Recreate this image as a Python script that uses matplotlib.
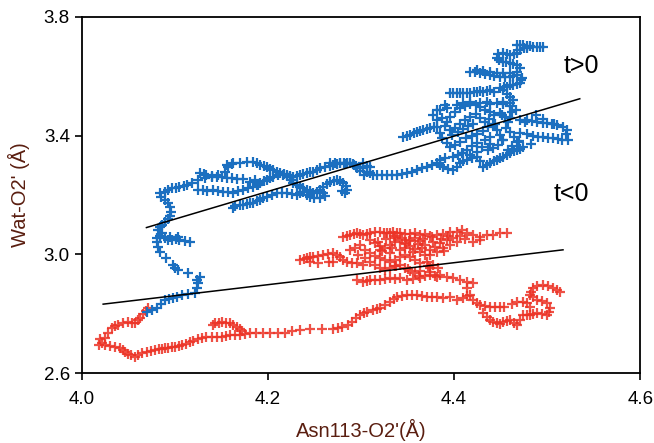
import numpy as np
import matplotlib
matplotlib.use("Agg")
from matplotlib import pyplot as plt

plt.rcParams['font.family'] = ['Liberation Sans', 'DejaVu Sans']

# t>0 trajectory (blue)
blue_x = [4.070, 4.075, 4.081, 4.085, 4.089, 4.094, 4.098, 4.102, 4.1075, 4.114, 4.1215, 4.124, 4.125, 4.127,
          4.124, 4.114, 4.103, 4.100, 4.098, 4.091, 4.084, 4.082, 4.081, 4.081, 4.084, 4.089, 4.093, 4.097,
          4.101, 4.105, 4.111, 4.116, 4.103, 4.095, 4.086, 4.082, 4.084, 4.086, 4.089, 4.093, 4.095, 4.096,
          4.095, 4.093, 4.089, 4.085, 4.084, 4.089, 4.093, 4.097, 4.101, 4.105, 4.110, 4.113, 4.118, 4.125,
          4.132, 4.140, 4.146, 4.154, 4.157, 4.161,
          4.156, 4.162, 4.170, 4.177, 4.184, 4.188, 4.191, 4.196, 4.199, 4.202, 4.205, 4.210, 4.213, 4.217,
          4.220, 4.224, 4.227, 4.231, 4.234, 4.238, 4.242, 4.245, 4.248, 4.253, 4.256, 4.261, 4.267, 4.270,
          4.274, 4.277, 4.282, 4.285, 4.288, 4.291, 4.295, 4.296, 4.299, 4.302, 4.306, 4.303,
          4.127, 4.131, 4.134, 4.140, 4.145, 4.151, 4.156, 4.161, 4.167, 4.173,
          4.125, 4.130, 4.135, 4.141, 4.146, 4.152, 4.157, 4.162, 4.168, 4.173, 4.1785, 4.184, 4.188, 4.191,
          4.196, 4.199, 4.202, 4.205, 4.211, 4.216, 4.220, 4.224, 4.226, 4.227, 4.231, 4.234, 4.238, 4.242,
          4.245, 4.248, 4.253, 4.256, 4.259, 4.263, 4.267, 4.271, 4.274, 4.277, 4.281, 4.284, 4.285, 4.283, 4.280,
          4.162, 4.165, 4.170, 4.173, 4.177, 4.181, 4.184, 4.188, 4.191, 4.195, 4.199, 4.204, 4.210, 4.215,
          4.220, 4.226, 4.231, 4.234, 4.238, 4.242, 4.245, 4.250, 4.256, 4.259, 4.261, 4.181, 4.186, 4.189,
          4.267, 4.272, 4.277, 4.283, 4.288, 4.293, 4.299, 4.302, 4.306, 4.310, 4.310, 4.313, 4.317, 4.323,
          4.328, 4.333, 4.339, 4.344, 4.3495, 4.355, 4.360, 4.366, 4.371, 4.376, 4.382, 4.385, 4.388, 4.3935,
          4.399, 4.403, 4.4065, 4.410, 4.414, 4.419, 4.4247, 4.428, 4.431, 4.4355, 4.4387, 4.443, 4.446, 4.449,
          4.4527, 4.457, 4.460, 4.464, 4.468, 4.471, 4.474, 4.385, 4.390, 4.399, 4.404, 4.410,
          4.345, 4.3495, 4.353, 4.357, 4.360, 4.3635, 4.367, 4.371, 4.374, 4.378, 4.382,
          4.385, 4.390, 4.3925, 4.382, 4.377, 4.382, 4.387, 4.392, 4.396, 4.401, 4.4065, 4.412, 4.417, 4.423,
          4.428, 4.433, 4.4387, 4.443, 4.449, 4.455, 4.458, 4.460, 4.462, 4.460, 4.4527, 4.446, 4.4387,
          4.390, 4.396, 4.401, 4.4065, 4.412, 4.417, 4.423, 4.428, 4.433, 4.436, 4.431, 4.425, 4.419, 4.413,
          4.4065, 4.401, 4.396, 4.392, 4.387, 4.385, 4.398, 4.4043, 4.410, 4.415, 4.420, 4.442, 4.446, 4.449,
          4.4527, 4.447, 4.442, 4.436, 4.430, 4.4247, 4.419, 4.414, 4.4086, 4.417, 4.4247, 4.433, 4.4387,
          4.456, 4.460, 4.464, 4.468, 4.462, 4.458,
          4.471, 4.4785, 4.484, 4.489, 4.495, 4.500, 4.505, 4.511, 4.517, 4.5215, 4.520,
          4.471, 4.4785, 4.485, 4.490, 4.4957, 4.501, 4.5065, 4.512, 4.516, 4.5226,
          4.396, 4.399, 4.403, 4.4065, 4.410, 4.414, 4.417, 4.421, 4.4247, 4.428, 4.431, 4.4355, 4.4387,
          4.443, 4.449, 4.4538, 4.457, 4.460, 4.4634, 4.468, 4.471, 4.472, 4.473, 4.468, 4.4634, 4.460,
          4.455, 4.449, 4.443, 4.4387, 4.433, 4.428, 4.4226, 4.417, 4.4247, 4.431, 4.4387, 4.446, 4.4527,
          4.460, 4.468, 4.471, 4.468, 4.4634, 4.460, 4.456, 4.4527, 4.448, 4.446, 4.447, 4.4527, 4.457,
          4.460, 4.4645, 4.468, 4.471, 4.475, 4.4785, 4.468, 4.471, 4.474, 4.4785, 4.482, 4.485, 4.489,
          4.4925, 4.4957,
          4.4527, 4.457, 4.460, 4.4634, 4.460, 4.4527, 4.4355, 4.428, 4.417, 4.410, 4.403,
          4.437, 4.444, 4.451, 4.466, 4.476, 4.488, 4.495, 4.507, 4.439, 4.452, 4.470, 4.483]
blue_y = [2.806, 2.812, 2.819, 2.833, 2.846, 2.849, 2.853, 2.856, 2.863, 2.866, 2.870, 2.887, 2.903, 2.924,
          2.914, 2.937, 2.947, 2.954, 2.964, 2.988, 3.008, 3.025, 3.042, 3.055, 3.062, 3.055, 3.048, 3.048,
          3.052, 3.048, 3.045, 3.042, 3.058, 3.058, 3.072, 3.082, 3.092, 3.099, 3.109, 3.119, 3.129, 3.143,
          3.160, 3.173, 3.183, 3.193, 3.207, 3.210, 3.217, 3.224, 3.224, 3.227, 3.230, 3.234, 3.241, 3.251,
          3.257, 3.261, 3.267, 3.278, 3.294, 3.304,
          3.301, 3.308, 3.308, 3.311, 3.311, 3.308, 3.301, 3.298, 3.294, 3.288, 3.284, 3.278, 3.274, 3.271,
          3.267, 3.264, 3.261, 3.264, 3.267, 3.271, 3.274, 3.278, 3.278, 3.284, 3.291, 3.294, 3.298, 3.301,
          3.304, 3.308, 3.308, 3.308, 3.308, 3.304, 3.298, 3.291, 3.281, 3.291, 3.278, 3.267,
          3.274, 3.271, 3.267, 3.264, 3.261, 3.261, 3.257, 3.257, 3.254, 3.254,
          3.217, 3.217, 3.214, 3.217, 3.214, 3.210, 3.210, 3.207, 3.214, 3.217, 3.224, 3.227, 3.234, 3.241,
          3.247, 3.251, 3.257, 3.261, 3.267, 3.267, 3.264, 3.261, 3.251, 3.241, 3.234, 3.227, 3.224, 3.217,
          3.214, 3.207, 3.210, 3.217, 3.227, 3.237, 3.244, 3.247, 3.251, 3.247, 3.241, 3.230, 3.217, 3.207, 3.214,
          3.156, 3.163, 3.166, 3.166, 3.170, 3.173, 3.173, 3.180, 3.183, 3.190, 3.193, 3.200, 3.207, 3.207,
          3.207, 3.203, 3.200, 3.207, 3.210, 3.200, 3.193, 3.190, 3.190, 3.207, 3.197, 3.244, 3.251, 3.234,
          3.308, 3.308, 3.308, 3.304, 3.308, 3.301, 3.294, 3.308, 3.298, 3.294, 3.274, 3.267, 3.267, 3.267,
          3.267, 3.267, 3.267, 3.271, 3.274, 3.278, 3.284, 3.291, 3.294, 3.301, 3.308, 3.301, 3.294, 3.288,
          3.284, 3.294, 3.308, 3.314, 3.318, 3.325, 3.328, 3.314, 3.294, 3.301, 3.308, 3.314, 3.318, 3.325,
          3.328, 3.335, 3.342, 3.348, 3.352, 3.355, 3.362, 3.318, 3.325, 3.328, 3.335, 3.342,
          3.396, 3.399, 3.402, 3.409, 3.412, 3.416, 3.419, 3.422, 3.426, 3.429, 3.429,
          3.4865, 3.503, 3.493, 3.4865, 3.470, 3.453, 3.460, 3.446, 3.463, 3.480, 3.493, 3.500, 3.507, 3.503,
          3.497, 3.4865, 3.480, 3.470, 3.476, 3.463, 3.446, 3.460, 3.480, 3.500, 3.507, 3.510, 3.507,
          3.432, 3.419, 3.426, 3.439, 3.453, 3.463, 3.473, 3.460, 3.446, 3.429, 3.416, 3.406, 3.399, 3.392,
          3.379, 3.369, 3.362, 3.375, 3.392, 3.409, 3.402, 3.412, 3.422, 3.432, 3.439, 3.436, 3.419, 3.402,
          3.385, 3.369, 3.358, 3.352, 3.362, 3.375, 3.365, 3.352, 3.342, 3.335, 3.345, 3.385, 3.395,
          3.426, 3.412, 3.395, 3.379, 3.365, 3.352,
          3.453, 3.453, 3.449, 3.446, 3.443, 3.443, 3.439, 3.436, 3.429, 3.419, 3.406,
          3.409, 3.406, 3.399, 3.396, 3.396, 3.392, 3.392, 3.389, 3.385, 3.385,
          3.544, 3.544, 3.544, 3.544, 3.544, 3.544, 3.544, 3.547, 3.547, 3.551, 3.547, 3.551, 3.554,
          3.547, 3.561, 3.564, 3.564, 3.571, 3.571, 3.574, 3.5775, 3.588, 3.594, 3.6045, 3.601, 3.598,
          3.598, 3.598, 3.601, 3.6045, 3.608, 3.611, 3.6146, 3.6146, 3.621, 3.618, 3.6146, 3.611, 3.611,
          3.611, 3.6146, 3.628, 3.638, 3.641, 3.645, 3.648, 3.648, 3.655, 3.662, 3.675, 3.6787, 3.675,
          3.672, 3.675, 3.6787, 3.689, 3.6955, 3.6955, 3.7056, 3.7056, 3.7056, 3.702, 3.702, 3.699, 3.699,
          3.699, 3.699,
          3.554, 3.540, 3.530, 3.520, 3.510, 3.5135, 3.5135, 3.510, 3.5135, 3.510, 3.503,
          3.455, 3.440, 3.470, 3.485, 3.445, 3.468, 3.455, 3.440, 3.370, 3.385, 3.382, 3.372]

# t<0 trajectory (red)
red_x = [4.0215, 4.020, 4.0247, 4.028, 4.032, 4.0355, 4.0387, 4.044, 4.0495, 4.054, 4.057, 4.060, 4.0624,
         4.0656, 4.069, 4.071, 4.019, 4.0247, 4.030, 4.0355, 4.041, 4.0441, 4.046, 4.0495, 4.0527, 4.057,
         4.060, 4.0645, 4.070, 4.074, 4.0785, 4.083, 4.086, 4.089, 4.0925, 4.097, 4.100, 4.104, 4.1075, 4.112,
         4.116, 4.120, 4.125, 4.129, 4.134, 4.140, 4.145, 4.1505, 4.155, 4.159, 4.1645, 4.170, 4.175, 4.181,
         4.187, 4.1946, 4.202, 4.211, 4.218, 4.226, 4.2344, 4.245, 4.258, 4.270, 4.275, 4.280,
         4.141, 4.143, 4.147, 4.1505, 4.155, 4.159, 4.163, 4.1667, 4.170, 4.172,
         4.286, 4.2903, 4.2946, 4.299, 4.303, 4.3065, 4.313, 4.317, 4.3204, 4.3258, 4.331, 4.3355, 4.3387,
         4.344, 4.3495, 4.355, 4.360, 4.3656, 4.371, 4.376, 4.382, 4.388, 4.3957, 4.403, 4.410, 4.414, 4.417,
         4.420, 4.4247, 4.428, 4.433, 4.4387, 4.444, 4.449, 4.4538, 4.431, 4.4355, 4.4387, 4.442, 4.446,
         4.449, 4.4527, 4.457, 4.460, 4.4645, 4.468, 4.471, 4.474, 4.4785, 4.482, 4.485, 4.489, 4.4946,
         4.500, 4.502, 4.503, 4.500, 4.4946, 4.489, 4.485, 4.482, 4.483, 4.485, 4.489, 4.4957, 4.501,
         4.5065, 4.511, 4.514, 4.482, 4.4785, 4.474, 4.468, 4.4624,
         4.3495, 4.356, 4.3635, 4.369, 4.374, 4.379, 4.385, 4.3925, 4.399, 4.4065, 4.414, 4.420, 4.414,
         4.371, 4.374, 4.374, 4.382,
         4.2344, 4.239, 4.242, 4.245, 4.248, 4.254, 4.259, 4.2645, 4.270, 4.274, 4.2774, 4.2806, 4.285,
         4.290, 4.2957, 4.302, 4.245, 4.254, 4.2656, 4.270,
         4.2806, 4.285, 4.288, 4.292, 4.2957, 4.299, 4.302, 4.3065, 4.3097, 4.315, 4.3204, 4.325, 4.328,
         4.331, 4.334, 4.3387, 4.342, 4.347, 4.353, 4.358, 4.3635, 4.3688, 4.374, 4.382, 4.388, 4.3957,
         4.403, 4.4086, 4.414, 4.420, 4.428, 4.4355, 4.442, 4.449, 4.457,
         4.3097, 4.315, 4.3204, 4.3258, 4.331, 4.3366, 4.342, 4.347, 4.353, 4.358, 4.3635, 4.369, 4.374,
         4.382, 4.388, 4.3957, 4.399, 4.403, 4.3925, 4.385, 4.380, 4.374, 4.369, 4.3635, 4.358, 4.353,
         4.3044, 4.3097, 4.315, 4.3204, 4.3258, 4.331, 4.3366, 4.342, 4.347, 4.353, 4.358, 4.3635, 4.299,
         4.2935, 4.288, 4.297, 4.3044, 4.3097, 4.315, 4.3204, 4.3258, 4.331, 4.3366, 4.342, 4.347, 4.353,
         4.358, 4.3635, 4.342, 4.331, 4.3204, 4.3366, 4.347,
         4.2957, 4.302, 4.3065, 4.3097, 4.315, 4.3204, 4.3258, 4.331, 4.3366, 4.342, 4.3774, 4.383,
         4.318, 4.327, 4.335, 4.344, 4.352, 4.361, 4.367, 4.376, 4.386, 4.393, 4.323, 4.333, 4.348, 4.356,
         4.366, 4.377, 4.389, 4.338, 4.351, 4.362, 4.372, 4.412, 4.420, 4.428, 4.406]
red_y = [2.701, 2.715, 2.718, 2.735, 2.752, 2.758, 2.762, 2.7685, 2.772, 2.7685, 2.7685, 2.779, 2.785,
         2.799, 2.809, 2.819, 2.694, 2.694, 2.691, 2.6876, 2.684, 2.6775, 2.671, 2.664, 2.6607, 2.654,
         2.6607, 2.667, 2.671, 2.674, 2.6775, 2.681, 2.681, 2.684, 2.684, 2.6876, 2.6876, 2.691, 2.694, 2.698,
         2.7045, 2.708, 2.7146, 2.718, 2.7214, 2.7214, 2.7214, 2.7214, 2.725, 2.728, 2.728, 2.728, 2.7315, 2.735,
         2.735, 2.735, 2.735, 2.735, 2.735, 2.7416, 2.745, 2.748, 2.748, 2.748, 2.7517, 2.755,
         2.762, 2.7685, 2.7685, 2.772, 2.7685, 2.7685, 2.762, 2.755, 2.748, 2.7416,
         2.762, 2.772, 2.785, 2.7955, 2.802, 2.8056, 2.812, 2.816, 2.819, 2.829, 2.839, 2.849, 2.856,
         2.8596, 2.863, 2.863, 2.863, 2.8596, 2.856, 2.856, 2.856, 2.853, 2.856, 2.846, 2.853, 2.8596, 2.863,
         2.846, 2.836, 2.829, 2.826, 2.8225, 2.8225, 2.8225, 2.8225, 2.802, 2.789, 2.7787, 2.772, 2.7685,
         2.765, 2.772, 2.775, 2.7787, 2.7685, 2.762, 2.7787, 2.7955, 2.7955, 2.7955, 2.799, 2.802, 2.799,
         2.7955, 2.8056, 2.819, 2.836, 2.843, 2.846, 2.856, 2.863, 2.873, 2.8865, 2.893, 2.8966, 2.893,
         2.8865, 2.880, 2.873, 2.8225, 2.836, 2.839, 2.839, 2.833,
         2.9135, 2.917, 2.920, 2.927, 2.930, 2.927, 2.930, 2.9236, 2.920, 2.9135, 2.907, 2.9034, 2.8865,
         2.974, 2.954, 2.9405, 2.9236,
         2.981, 2.984, 2.9876, 2.991, 2.991, 2.9944, 2.998, 3.001, 3.0045, 2.998, 2.991, 2.981, 2.974,
         2.971, 2.971, 2.964, 2.974, 2.971, 2.974, 2.974,
         3.058, 3.062, 3.065, 3.068, 3.072, 3.068, 3.065, 3.068, 3.072, 3.075, 3.075, 3.072, 3.072,
         3.072, 3.075, 3.072, 3.072, 3.068, 3.068, 3.072, 3.065, 3.068, 3.062, 3.065, 3.068, 3.075,
         3.075, 3.082, 3.072, 3.065, 3.058, 3.065, 3.065, 3.072, 3.072,
         3.048, 3.038, 3.028, 3.021, 3.031, 3.0416, 3.048, 3.038, 3.028, 3.018, 3.008, 2.998, 2.998,
         3.008, 3.021, 3.031, 3.055, 3.0416, 3.048, 3.038, 3.025, 3.015, 3.031, 3.045, 3.055, 3.048,
         3.015, 3.0045, 2.9944, 2.9876, 2.981, 2.974, 2.981, 2.991, 2.998, 2.991, 2.981, 2.971, 3.031,
         3.021, 3.015, 2.998, 2.9876, 2.974, 2.964, 2.954, 2.947, 2.954, 2.961, 2.964, 2.954, 2.944,
         2.937, 2.944, 3.015, 3.0045, 3.015, 3.055, 3.021,
         2.9135, 2.907, 2.910, 2.9135, 2.9135, 2.9135, 2.917, 2.920, 2.917, 2.920, 2.964, 2.954,
         3.040, 3.052, 3.060, 3.055, 3.044, 3.036, 3.050, 3.058, 3.052, 3.062, 3.010, 3.022, 3.035, 3.008,
         3.022, 3.042, 3.010, 2.962, 2.952, 2.928, 2.960, 3.050, 3.040, 3.048, 3.062]

# fitted lines (end points)
fit_blue_x = [4.0695, 4.535]
fit_blue_y = [3.090, 3.524]
fit_red_x = [4.023, 4.517]
fit_red_y = [2.832, 3.015]

fig = plt.figure(figsize=(6.54, 4.43), dpi=100)
ax = fig.add_axes([0.125, 0.158, 0.854, 0.804])

ax.plot(red_x, red_y, '+', color='#ec3326', ms=7, mew=1.6, alpha=0.85)
ax.plot(blue_x, blue_y, '+', color='#1b6fc0', ms=7, mew=1.6)
ax.plot(fit_blue_x, fit_blue_y, color='black', lw=1.1)
ax.plot(fit_red_x, fit_red_y, color='black', lw=1.1)

ax.text(4.537, 3.635, 't>0', fontsize=18, ha='center', va='center')
ax.text(4.526, 3.203, 't<0', fontsize=18, ha='center', va='center')

ax.set_xlim(4.0, 4.6)
ax.set_ylim(2.6, 3.8)
ax.set_xticks([4.0, 4.2, 4.4, 4.6])
ax.set_yticks([2.6, 3.0, 3.4, 3.8])
ax.tick_params(direction='out', length=5, width=1.2, labelsize=13.5)
ax.tick_params(axis='x', pad=8)
for s in ax.spines.values():
    s.set_linewidth(1.3)

ax.set_xlabel("Asn113-O2'(Å)", fontsize=14.5, color='#5a1e10', labelpad=8)
ax.set_ylabel("Wat-O2' (Å)", fontsize=14.5, color='#5a1e10', labelpad=10)

fig.savefig('out.png', dpi=100)
